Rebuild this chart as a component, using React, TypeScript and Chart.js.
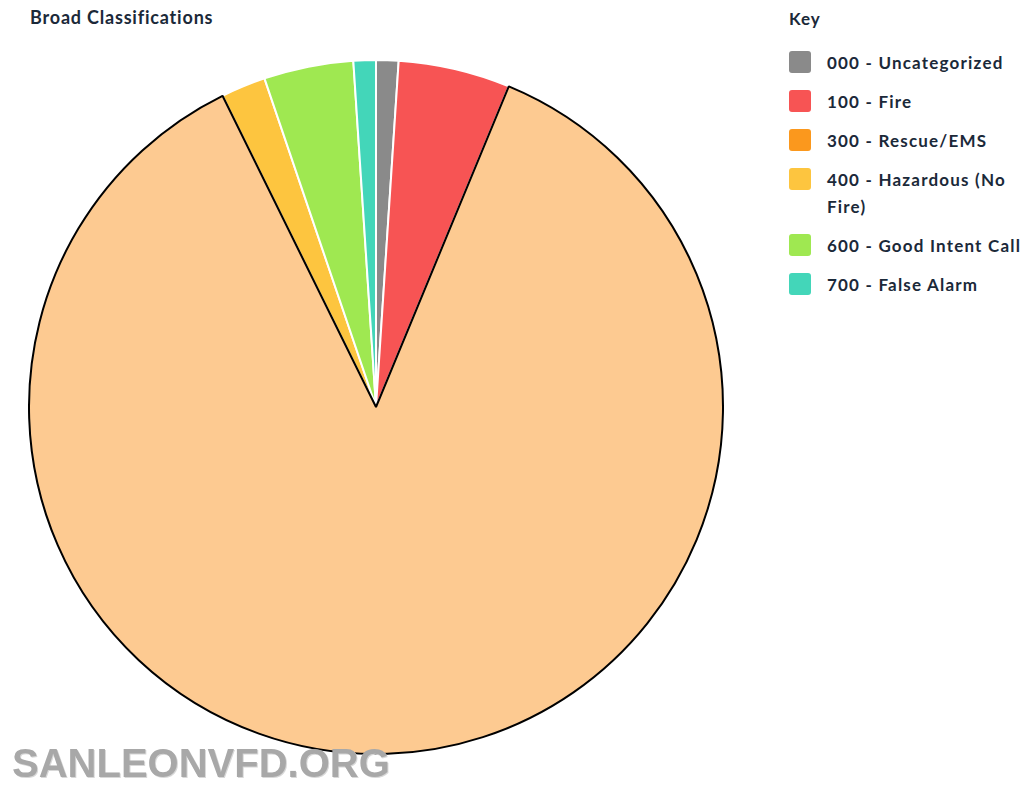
import React, { useEffect, useRef } from "react";
import { Chart, registerables } from "chart.js";

Chart.register(...registerables);

const categories = [
  "000 - Uncategorized",
  "100 - Fire",
  "300 - Rescue/EMS",
  "400 - Hazardous (No Fire)",
  "600 - Good Intent Call",
  "700 - False Alarm",
];
const counts = [1, 5, 83, 2, 4, 1];
const colors = ["#8a8a8a", "#f75454", "#fb981d", "#fdc53f", "#9fe851", "#43d6b9"];
const hoverColors = ["#8a8a8a", "#f75454", "#fdca91", "#fdc53f", "#9fe851", "#43d6b9"];
const highlighted = 2;

const textColor = "#1b2939";
const fontFam = "Lato, 'Noto Sans', sans-serif";

export default function App() {
  const ref = useRef<HTMLCanvasElement>(null);
  useEffect(() => {
    if (!ref.current) return;
    const chart = new Chart(ref.current, {
      type: "pie",
      data: {
        labels: categories,
        datasets: [
          {
            data: counts,
            backgroundColor: colors,
            hoverBackgroundColor: hoverColors,
            borderColor: "#ffffff",
            hoverBorderColor: "#000000",
            borderWidth: 2,
            hoverBorderWidth: 2,
            hoverOffset: 0,
          },
        ],
      },
      options: {
        responsive: false,
        animation: false,
        events: [],
        layout: { padding: 0 },
        plugins: {
          legend: { display: false },
          tooltip: { enabled: false },
          title: { display: false },
        },
      },
    });
    chart.setActiveElements([{ datasetIndex: 0, index: highlighted }]);
    chart.update("none");
    return () => chart.destroy();
  }, []);

  return (
    <div
      style={{
        position: "absolute",
        left: 0,
        top: 0,
        width: 1024,
        height: 788,
        background: "#fff",
        overflow: "hidden",
        fontFamily: fontFam,
        color: textColor,
      }}
    >
      <div
        style={{
          position: "absolute",
          left: 30,
          top: 6,
          fontSize: 18,
          fontWeight: 700,
          letterSpacing: 0.8,
          lineHeight: "22px",
        }}
      >
        Broad Classifications
      </div>
      <canvas
        ref={ref}
        width={696}
        height={696}
        style={{ position: "absolute", left: 28, top: 59, width: 696, height: 696 }}
      />
      <div
        style={{
          position: "absolute",
          left: 789,
          top: 8,
          fontSize: 17,
          fontWeight: 700,
          lineHeight: "22px",
          letterSpacing: 1,
        }}
      >
        Key
      </div>
      <div style={{ position: "absolute", left: 789, top: 48.5, width: 240 }}>
        {categories.map((c, i) => (
          <div key={c} style={{ display: "flex", alignItems: "flex-start", marginBottom: 12 }}>
            <div
              style={{
                width: 22,
                height: 22,
                borderRadius: 3,
                background: colors[i],
                marginTop: 2.5,
                flex: "0 0 auto",
              }}
            />
            <div
              style={{
                marginLeft: 16,
                width: 200,
                fontSize: 17,
                fontWeight: 700,
                lineHeight: "27px",
                letterSpacing: 1.2,
              }}
            >
              {c}
            </div>
          </div>
        ))}
      </div>
      <div
        style={{
          position: "absolute",
          left: 12,
          top: 738,
          fontFamily: "'Liberation Sans', Arial, sans-serif",
          fontWeight: 700,
          fontSize: 40,
          lineHeight: "50px",
          color: "#a8a8a8",
          textShadow: "1px 1px 0 #d8d8d8",
          whiteSpace: "nowrap",
        }}
      >
        SANLEONVFD.ORG
      </div>
    </div>
  );
}
